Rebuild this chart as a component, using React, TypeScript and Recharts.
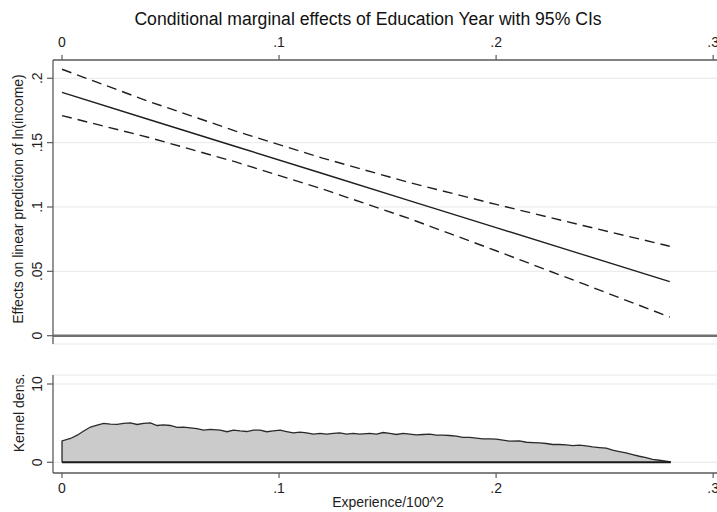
import React from 'react';
import {
  ComposedChart,
  Line,
  Area,
  XAxis,
  YAxis,
  CartesianGrid,
  ReferenceLine,
  Label,
} from 'recharts';

// ---- data ----
const effX = [0, 0.04, 0.08, 0.12, 0.16, 0.2, 0.24, 0.28];
const effFit = [0.189, 0.168, 0.147, 0.126, 0.105, 0.084, 0.063, 0.042];
const effUpper = [0.207, 0.182, 0.159, 0.138, 0.119, 0.102, 0.0856, 0.0695];
const effLower = [0.171, 0.154, 0.135, 0.114, 0.091, 0.066, 0.0404, 0.0145];

const densX = [
  0, 0, 0.0039, 0.007, 0.01, 0.0131, 0.0162, 0.0192, 0.0223, 0.0254, 0.0284, 0.0315, 0.0346,
  0.0376, 0.0407, 0.0438, 0.0468, 0.0499, 0.053, 0.056, 0.0591, 0.0622, 0.0652, 0.0683, 0.0729,
  0.076, 0.079, 0.0821, 0.0851, 0.0882, 0.0913, 0.0943, 0.0974, 0.1005, 0.1035, 0.1066, 0.1097,
  0.1127, 0.1158, 0.1189, 0.1219, 0.125, 0.128, 0.1311, 0.1342, 0.1372, 0.1418, 0.1449, 0.148,
  0.151, 0.1541, 0.1572, 0.1602, 0.1633, 0.1663, 0.1694, 0.1725, 0.1755, 0.1786, 0.1817, 0.1847,
  0.1878, 0.1909, 0.1939, 0.197, 0.2001, 0.2031, 0.2062, 0.2108, 0.2139, 0.217, 0.22, 0.2231,
  0.2261, 0.2292, 0.2323, 0.2353, 0.2384, 0.2415, 0.2445, 0.2476, 0.2507, 0.2537, 0.2568, 0.2599,
  0.2629, 0.266, 0.2691, 0.2721, 0.2752, 0.2782, 0.2805,
];
const densY = [
  0, 2.73, 3.04, 3.46, 4.0, 4.5, 4.74, 4.96, 4.87, 4.83, 4.96, 5.04, 4.83, 4.96, 5.04, 4.7, 4.79,
  4.7, 4.45, 4.5, 4.4, 4.3, 4.1, 4.2, 4.1, 3.9, 4.1, 4.0, 3.93, 4.1, 4.1, 3.9, 4.0, 4.1, 3.93, 3.76,
  3.85, 3.76, 3.6, 3.68, 3.6, 3.68, 3.76, 3.6, 3.68, 3.6, 3.68, 3.6, 3.8, 3.68, 3.55, 3.68, 3.6, 3.5,
  3.55, 3.6, 3.46, 3.46, 3.42, 3.33, 3.17, 3.17, 3.08, 3.0, 3.0, 2.95, 2.82, 2.7, 2.73, 2.56, 2.52,
  2.47, 2.4, 2.27, 2.27, 2.22, 2.14, 2.18, 2.09, 1.96, 1.88, 1.8, 1.54, 1.37, 1.19, 0.99, 0.77, 0.6,
  0.38, 0.26, 0.13, 0.04,
];

const xTicks = [0, 0.1, 0.2, 0.3];
const effTicks = [0, 0.05, 0.1, 0.15, 0.2];
const densTicks = [0, 10];

const chartTitle = 'Conditional marginal effects of Education Year with 95% CIs';
const effTitle = 'Effects on linear prediction of ln(income)';
const densTitle = 'Kernel dens.';
const xTitle = 'Experience/100^2';

// ---- styling ----
const FONT = '"Liberation Sans", Arial, Helvetica, sans-serif';
const AXIS = '#5c5c5c';
const INK = '#1e1e1e';
const GRID = '#e8e8e8';
const X_DOMAIN: [number, number] = [-0.00415, 0.305];
const FS = 14;

const fmt = (v: number) => (v === 0 ? '0' : String(v).replace(/^0\./, '.'));

const effData = effX.map((x, i) => ({ x, fit: effFit[i], upper: effUpper[i], lower: effLower[i] }));
const densData = densX.map((x, i) => ({ x, dens: densY[i] }));

const RotTick = (props: any) => {
  const { x, y, payload } = props;
  return (
    <text
      x={x}
      y={y}
      transform={`rotate(-90 ${x} ${y})`}
      textAnchor="middle"
      fontSize={FS}
      fill={INK}
      fontFamily={FONT}
    >
      {fmt(payload.value)}
    </text>
  );
};

const rotText = (x: number, y: number, s: string) => (
  <text
    x={x}
    y={y}
    transform={`rotate(-90 ${x} ${y})`}
    textAnchor="middle"
    fontSize={FS}
    fill={INK}
    fontFamily={FONT}
  >
    {s}
  </text>
);

const tickStyle = { fontSize: FS, fill: INK, fontFamily: FONT };

export default function App() {
  return (
    <div
      style={{
        position: 'absolute',
        left: 0,
        top: 0,
        width: 717,
        height: 512,
        overflow: 'hidden',
        background: '#fff',
        fontFamily: FONT,
      }}
    >
      <div style={{ position: 'absolute', left: 0, top: 0 }}>
        <ComposedChart
          width={740}
          height={350}
          data={effData}
          margin={{ top: 0, right: 16, bottom: 6, left: 0 }}
        >
          <CartesianGrid horizontal vertical={false} stroke={GRID} strokeWidth={1} />
          <XAxis
            xAxisId={0}
            type="number"
            dataKey="x"
            orientation="top"
            domain={X_DOMAIN}
            allowDataOverflow
            ticks={xTicks}
            interval={0}
            tickFormatter={fmt}
            height={60}
            tickSize={5}
            tickMargin={8}
            tick={tickStyle}
            axisLine={{ stroke: AXIS, strokeWidth: 1.3 }}
            tickLine={{ stroke: AXIS, strokeWidth: 1.2 }}
          >
            <Label
              content={() => (
                <text x={368} y={25} textAnchor="middle" fontSize={17.6} fill="#111" fontFamily={FONT}>
                  {chartTitle}
                </text>
              )}
            />
          </XAxis>
          <YAxis
            yAxisId={0}
            type="number"
            domain={[-0.00645, 0.2142]}
            allowDataOverflow
            ticks={effTicks}
            interval={0}
            width={53}
            tickSize={6}
            tickMargin={5}
            tick={<RotTick />}
            axisLine={{ stroke: AXIS, strokeWidth: 1.3 }}
            tickLine={{ stroke: AXIS, strokeWidth: 1.2 }}
          >
            <Label content={() => rotText(23, 199, effTitle)} />
          </YAxis>
          <ReferenceLine y={0} stroke="#707070" strokeWidth={2.6} />
          <Line
            type="linear"
            dataKey="upper"
            stroke={INK}
            strokeWidth={1.4}
            strokeDasharray="10 6"
            dot={false}
            activeDot={false}
            isAnimationActive={false}
          />
          <Line
            type="linear"
            dataKey="fit"
            stroke={INK}
            strokeWidth={1.4}
            dot={false}
            activeDot={false}
            isAnimationActive={false}
          />
          <Line
            type="linear"
            dataKey="lower"
            stroke={INK}
            strokeWidth={1.4}
            strokeDasharray="10 6"
            dot={false}
            activeDot={false}
            isAnimationActive={false}
          />
        </ComposedChart>
      </div>
      <div style={{ position: 'absolute', left: 0, top: 360 }}>
        <ComposedChart
          width={740}
          height={152}
          data={densData}
          margin={{ top: 15, right: 16, bottom: 0, left: 0 }}
        >
          <CartesianGrid horizontal vertical={false} stroke={GRID} strokeWidth={1} />
          <XAxis
            type="number"
            dataKey="x"
            domain={X_DOMAIN}
            allowDataOverflow
            ticks={xTicks}
            interval={0}
            tickFormatter={fmt}
            height={39}
            tickSize={5}
            tickMargin={5}
            tick={tickStyle}
            axisLine={{ stroke: AXIS, strokeWidth: 1.3 }}
            tickLine={{ stroke: AXIS, strokeWidth: 1.2 }}
          >
            <Label
              content={() => (
                <text x={388} y={147} textAnchor="middle" fontSize={FS} fill={INK} fontFamily={FONT}>
                  {xTitle}
                </text>
              )}
            />
          </XAxis>
          <YAxis
            type="number"
            domain={[-1.37, 11.15]}
            allowDataOverflow
            ticks={densTicks}
            interval={0}
            width={53}
            tickSize={6}
            tickMargin={5}
            tick={<RotTick />}
            axisLine={{ stroke: AXIS, strokeWidth: 1.3 }}
            tickLine={{ stroke: AXIS, strokeWidth: 1.2 }}
          >
            <Label content={() => rotText(24, 53, densTitle)} />
          </YAxis>
          <Area
            type="linear"
            dataKey="dens"
            baseValue={0}
            stroke="#2a2a2a"
            strokeWidth={1.3}
            fill="#cbcbcb"
            fillOpacity={1}
            dot={false}
            activeDot={false}
            isAnimationActive={false}
          />
          <ReferenceLine
            segment={[
              { x: densX[0], y: 0 },
              { x: densX[densX.length - 1], y: 0 },
            ]}
            stroke="#1a1a1a"
            strokeWidth={2}
          />
        </ComposedChart>
      </div>
    </div>
  );
}
